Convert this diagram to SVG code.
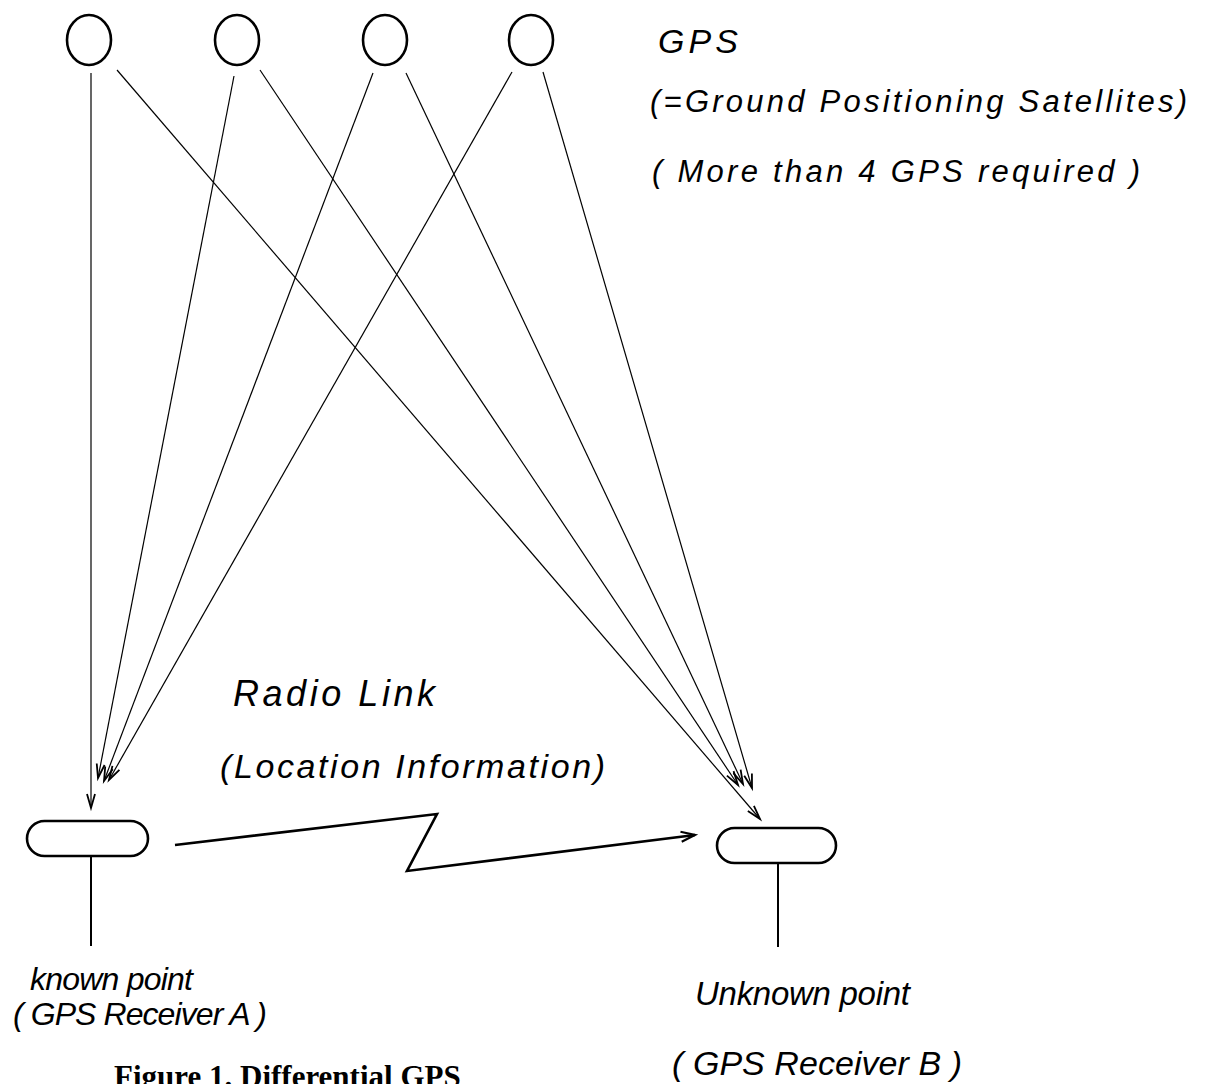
<svg xmlns="http://www.w3.org/2000/svg" width="1210" height="1084" viewBox="0 0 1210 1084">
<style>
.sat{fill:none;stroke:#000;stroke-width:2.6}
.rcv{fill:none;stroke:#000;stroke-width:2.6}
.stem{stroke:#000;stroke-width:2}
.ray{fill:none;stroke:#000;stroke-width:1.2;marker-end:url(#ah)}
.radio{fill:none;stroke:#000;stroke-width:2.6;stroke-linejoin:miter;marker-end:url(#ah2)}
.hw{font-family:"Liberation Sans","DejaVu Sans",sans-serif;font-style:italic;fill:#000}
.cap{font-family:"Liberation Serif","Times New Roman",serif;font-weight:bold;fill:#000}
</style>
<defs>
<marker id="ah" markerUnits="userSpaceOnUse" markerWidth="20" markerHeight="14" refX="15" refY="5" orient="auto" viewBox="0 0 20 10">
<path d="M1,1 L15,5 L1,9" fill="none" stroke="#000" stroke-width="1.8"/>
</marker>
<marker id="ah2" markerUnits="userSpaceOnUse" markerWidth="20" markerHeight="16" refX="15" refY="6" orient="auto" viewBox="0 0 20 12">
<path d="M1,1 L15,6 L1,11" fill="none" stroke="#000" stroke-width="2.2"/>
</marker>
</defs>
<rect width="1210" height="1084" fill="#fff"/>
<g id="connectors">
<line class="ray" x1="91" y1="73" x2="91" y2="808"/>
<line class="ray" x1="117" y1="70" x2="760" y2="819"/>
<line class="ray" x1="234" y1="76" x2="98" y2="778"/>
<line class="ray" x1="260" y1="70" x2="738" y2="785"/>
<line class="ray" x1="373" y1="73" x2="104" y2="781"/>
<line class="ray" x1="406" y1="73" x2="743" y2="784"/>
<line class="ray" x1="512" y1="72" x2="109" y2="780"/>
<line class="ray" x1="543" y1="72" x2="752" y2="788"/>
<polyline id="radio-link" class="radio" points="175,845 437,814 407,871 695,835"/>
</g>
<g id="sat1"><ellipse class="sat" cx="89" cy="40" rx="22" ry="25"/></g>
<g id="sat2"><ellipse class="sat" cx="237" cy="40" rx="22" ry="25"/></g>
<g id="sat3"><ellipse class="sat" cx="385" cy="40" rx="22" ry="25"/></g>
<g id="sat4"><ellipse class="sat" cx="531" cy="40" rx="22" ry="25"/></g>
<g id="gps-label">
<text class="hw" x="658" y="53" font-size="34" textLength="80" lengthAdjust="spacing">GPS</text>
<text class="hw" x="650" y="112" font-size="31" textLength="537" lengthAdjust="spacing">(=Ground Positioning Satellites)</text>
<text class="hw" x="652" y="182" font-size="31" textLength="488" lengthAdjust="spacing">( More than 4 GPS required )</text>
</g>
<g id="receiver-a">
<rect class="rcv" x="27" y="821" width="121" height="35" rx="17.5"/>
<line class="stem" x1="91" y1="856" x2="91" y2="946"/>
<text class="hw" x="30" y="990" font-size="32" textLength="163" lengthAdjust="spacing">known point</text>
<text class="hw" x="13" y="1025" font-size="32" textLength="254" lengthAdjust="spacing">( GPS Receiver A )</text>
</g>
<g id="receiver-b">
<rect class="rcv" x="717" y="828" width="119" height="35" rx="17.5"/>
<line class="stem" x1="778" y1="863" x2="778" y2="947"/>
<text class="hw" x="695" y="1005" font-size="33" textLength="215" lengthAdjust="spacing">Unknown point</text>
<text class="hw" x="672" y="1075" font-size="34" textLength="290" lengthAdjust="spacing">( GPS Receiver B )</text>
</g>
<g id="radio-label">
<text class="hw" x="233" y="706" font-size="36" textLength="202" lengthAdjust="spacing">Radio Link</text>
<text class="hw" x="220" y="778" font-size="34" textLength="385" lengthAdjust="spacing">(Location Information)</text>
</g>
<text class="cap" x="114" y="1087" font-size="31">Figure 1. Differential GPS</text>
</svg>
